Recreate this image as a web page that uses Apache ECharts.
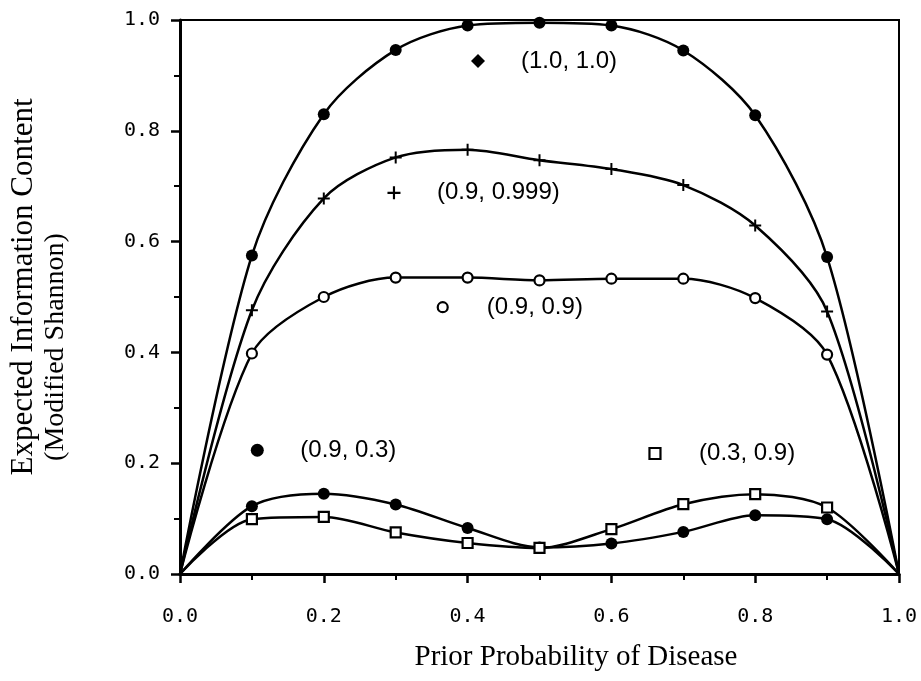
<!DOCTYPE html>
<html>
<head>
<meta charset="utf-8">
<title>Expected Information Content vs Prior Probability</title>
<script src="https://cdn.jsdelivr.net/npm/echarts@6/dist/echarts.min.js"></script>
<style>
  html, body { margin: 0; padding: 0; background: #fff; }
  #chart { width: 921px; height: 681px; }
</style>
</head>
<body>
<div id="chart"></div>
<script>
// Prior probability of disease (x values)
const priorProb = [0.0, 0.1, 0.2, 0.3, 0.4, 0.5, 0.6, 0.7, 0.8, 0.9, 1.0];

// Expected information content for each (sensitivity, specificity) pair
const test_10_10   = [0, 0.575, 0.830, 0.946, 0.990, 0.995, 0.990, 0.945, 0.828, 0.572, 0];
const test_09_0999 = [0, 0.476, 0.678, 0.752, 0.766, 0.747, 0.731, 0.702, 0.629, 0.474, 0];
const test_09_09   = [0, 0.398, 0.500, 0.535, 0.535, 0.530, 0.533, 0.533, 0.498, 0.396, 0];
const test_09_03   = [0, 0.1225, 0.145, 0.1255, 0.083, 0.048, 0.055, 0.076, 0.106, 0.099, 0];
const test_03_09   = [0, 0.099, 0.103, 0.075, 0.056, 0.047, 0.081, 0.126, 0.144, 0.120, 0];

// Axis tick values
const xTicks = [0.0, 0.2, 0.4, 0.6, 0.8, 1.0];
const yTicks = [0.0, 0.2, 0.4, 0.6, 0.8, 1.0];

const seriesLabels = ['(1.0, 1.0)', '(0.9, 0.999)', '(0.9, 0.9)', '(0.9, 0.3)', '(0.3, 0.9)'];

const PLUS = 'path://M5,0h2v5h5v2h-5v5h-2v-5h-5v-2h5z';

const chart = echarts.init(document.getElementById('chart'), null, { renderer: 'canvas' });

function pairs(ys) {
  return priorProb.map((x, i) => {
    const item = { value: [x, ys[i]] };
    if (x === 0 || x === 1) item.symbol = 'none';
    return item;
  });
}

function markerStyle(filled) {
  return filled
    ? { color: '#000', borderColor: '#000', borderWidth: 0, opacity: 1 }
    : { color: '#fff', borderColor: '#000', borderWidth: 2.2, opacity: 1 };
}

function curve(name, ys, symbol, size, filled) {
  return {
    name: name,
    type: 'line',
    data: pairs(ys),
    smooth: 0.3,
    symbol: symbol,
    symbolSize: size,
    showAllSymbol: true,
    lineStyle: { color: '#000', width: 2.5 },
    itemStyle: markerStyle(filled),
    emphasis: { disabled: true },
    z: 3
  };
}

// key entry: a marker with its text placed to the right
function keyEntry(text, pos, symbol, size, filled) {
  return {
    type: 'scatter',
    data: [pos],
    symbol: symbol,
    symbolSize: size,
    itemStyle: markerStyle(filled),
    label: {
      show: true,
      position: 'right',
      distance: 43 - size / 2,
      formatter: text,
      color: '#000',
      opacity: 1,
      fontFamily: 'Liberation Sans, Arial, sans-serif',
      fontSize: 24
    },
    emphasis: { disabled: true },
    silent: true,
    z: 4
  };
}

const tickFont = { fontFamily: 'DejaVu Sans Mono, monospace', fontSize: 20, color: '#000' };

const option = {
  animation: false,
  backgroundColor: '#fff',
  grid: {
    left: 180, right: 22, top: 20, bottom: 107,
    show: true, borderColor: '#000', borderWidth: 2, backgroundColor: 'transparent'
  },
  xAxis: {
    type: 'value',
    min: xTicks[0], max: xTicks[xTicks.length - 1], interval: 0.2,
    axisLine: { show: true, onZero: false, lineStyle: { color: '#000', width: 3 } },
    axisTick: { show: true, inside: false, length: 9, lineStyle: { color: '#000', width: 2.5 } },
    minorTick: { show: true, splitNumber: 2, length: 6, lineStyle: { color: '#000', width: 2 } },
    splitLine: { show: false },
    axisLabel: Object.assign({ margin: 33, formatter: v => v.toFixed(1) }, tickFont)
  },
  yAxis: {
    type: 'value',
    min: yTicks[0], max: yTicks[yTicks.length - 1], interval: 0.2,
    axisLine: { show: true, onZero: false, lineStyle: { color: '#000', width: 3 } },
    axisTick: { show: true, inside: false, length: 9, lineStyle: { color: '#000', width: 2.5 } },
    minorTick: { show: true, splitNumber: 2, length: 6, lineStyle: { color: '#000', width: 2 } },
    splitLine: { show: false },
    axisLabel: Object.assign({ margin: 20, formatter: v => v.toFixed(1) }, tickFont)
  },
  series: [
    curve(seriesLabels[0], test_10_10, 'circle', 12, true),
    curve(seriesLabels[1], test_09_0999, PLUS, 12, true),
    curve(seriesLabels[2], test_09_09, 'circle', 10, false),
    curve(seriesLabels[3], test_09_03, 'circle', 12, true),
    curve(seriesLabels[4], test_03_09, 'rect', 10, false),
    keyEntry(seriesLabels[0], [0.4145, 0.926], 'diamond', 14, true),
    keyEntry(seriesLabels[1], [0.2976, 0.688], PLUS, 13, true),
    keyEntry(seriesLabels[2], [0.3654, 0.4816], 'circle', 10, false),
    keyEntry(seriesLabels[3], [0.1075, 0.2234], 'circle', 13, true),
    keyEntry(seriesLabels[4], [0.6606, 0.2175], 'rect', 11, false)
  ],
  graphic: [
    {
      type: 'text', x: 576, y: 657,
      style: {
        text: 'Prior Probability of Disease', fill: '#000',
        font: '29px "Liberation Serif", "Times New Roman", serif',
        textAlign: 'center', textVerticalAlign: 'middle'
      }
    },
    {
      type: 'text', x: 24, y: 287, rotation: Math.PI / 2,
      style: {
        text: 'Expected Information Content', fill: '#000',
        font: '31px "Liberation Serif", "Times New Roman", serif',
        textAlign: 'center', textVerticalAlign: 'middle'
      }
    },
    {
      type: 'text', x: 56, y: 347, rotation: Math.PI / 2,
      style: {
        text: '(Modified Shannon)', fill: '#000',
        font: '28px "Liberation Serif", "Times New Roman", serif',
        textAlign: 'center', textVerticalAlign: 'middle'
      }
    }
  ]
};

chart.setOption(option);
</script>
</body>
</html>
